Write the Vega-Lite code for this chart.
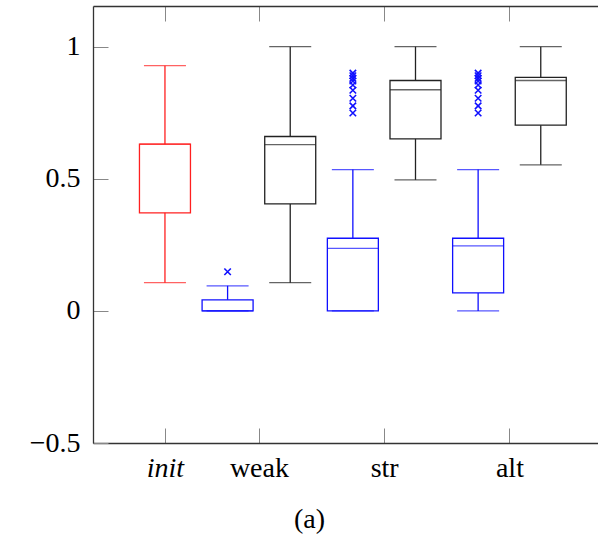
{
  "$schema": "https://vega.github.io/schema/vega-lite/v6.json",
  "width": 505,
  "height": 437,
  "autosize": {"type": "none"},
  "padding": {"left": 93, "top": 6, "right": 0, "bottom": 93},
  "background": "white",
  "config": {
    "view": {"stroke": null},
    "font": "Liberation Serif",
    "axis": {"labelFont": "Liberation Serif", "titleFont": "Liberation Serif", "tickSize": -15, "tickColor": "#888", "tickWidth": 1},
    "axisLeft": {"tickSize": -15, "tickColor": "#888", "tickWidth": 1},
    "axisTop": {"tickSize": -15, "tickColor": "#888", "tickWidth": 1}
  },
  "datasets": {
    "boxes": [
      {"pos": 1, "group": "init", "series": "init", "lo": 0.107, "q1": 0.371, "median": 0.631, "q3": 0.631, "hi": 0.928},
      {"pos": 2, "group": "weak", "series": "s1", "lo": 0.0, "q1": 0.0, "median": 0.0, "q3": 0.042, "hi": 0.095},
      {"pos": 3, "group": "weak", "series": "s2", "lo": 0.107, "q1": 0.405, "median": 0.629, "q3": 0.66, "hi": 1.0},
      {"pos": 4, "group": "str", "series": "s1", "lo": 0.0, "q1": 0.0, "median": 0.237, "q3": 0.275, "hi": 0.535},
      {"pos": 5, "group": "str", "series": "s2", "lo": 0.496, "q1": 0.651, "median": 0.837, "q3": 0.872, "hi": 1.0},
      {"pos": 6, "group": "alt", "series": "s1", "lo": 0.0, "q1": 0.068, "median": 0.246, "q3": 0.275, "hi": 0.535},
      {"pos": 7, "group": "alt", "series": "s2", "lo": 0.553, "q1": 0.703, "median": 0.872, "q3": 0.884, "hi": 1.0}
    ],
    "outliers": [
      {"pos": 2, "series": "s1", "value": 0.148},
      {"pos": 4, "series": "s1", "value": 0.90},
      {"pos": 4, "series": "s1", "value": 0.89},
      {"pos": 4, "series": "s1", "value": 0.88},
      {"pos": 4, "series": "s1", "value": 0.87},
      {"pos": 4, "series": "s1", "value": 0.855},
      {"pos": 4, "series": "s1", "value": 0.835},
      {"pos": 4, "series": "s1", "value": 0.805},
      {"pos": 4, "series": "s1", "value": 0.776},
      {"pos": 4, "series": "s1", "value": 0.749},
      {"pos": 6, "series": "s1", "value": 0.90},
      {"pos": 6, "series": "s1", "value": 0.89},
      {"pos": 6, "series": "s1", "value": 0.88},
      {"pos": 6, "series": "s1", "value": 0.87},
      {"pos": 6, "series": "s1", "value": 0.855},
      {"pos": 6, "series": "s1", "value": 0.835},
      {"pos": 6, "series": "s1", "value": 0.805},
      {"pos": 6, "series": "s1", "value": 0.776},
      {"pos": 6, "series": "s1", "value": 0.749}
    ]
  },
  "layer": [
    {
      "encoding": {
        "x": {
          "field": "pos",
          "type": "quantitative",
          "scale": {"domain": [-0.069, 7.834], "nice": false, "zero": false},
          "axis": {
            "orient": "bottom",
            "values": [1, 2.5, 4.5, 6.5],
            "labelExpr": "datum.value == 1 ? 'init' : datum.value == 2.5 ? 'weak' : datum.value == 4.5 ? 'str' : 'alt'",
            "labelFontStyle": {"condition": {"test": "datum.value == 1", "value": "italic"}, "value": "normal"},
            "labelFont": "Liberation Serif",
            "labelFontSize": 28,
            "labelColor": "#000",
            "labelPadding": 26,
            "labelFlush": false,
            "domainColor": "#333",
            "domainWidth": 1.3,
            "grid": false,
            "title": "(a)",
            "titleFont": "Liberation Serif",
            "titleFontWeight": "normal",
            "titleFontSize": 28,
            "titleColor": "#000",
            "titleX": 216,
            "titleY": 76,
            "titleBaseline": "middle"
          }
        },
        "color": {
          "field": "series",
          "type": "nominal",
          "scale": {"domain": ["init", "s1", "s2"], "range": ["#ff2020", "#1010ff", "#222222"]},
          "legend": null
        }
      },
      "layer": [
        {
          "data": {"name": "boxes"},
          "mark": {"type": "rule", "strokeWidth": 1.3},
          "encoding": {
            "y": {
              "field": "lo",
              "type": "quantitative",
              "scale": {"domain": [-0.5, 1.154], "nice": false, "zero": false},
              "axis": {
                "values": [-0.5, 0, 0.5, 1],
                "format": "~g",
                "labelFont": "Liberation Serif",
                "labelFontSize": 28,
                "labelColor": "#000",
                "labelPadding": 28,
                "domainColor": "#333",
                "domainWidth": 1.3,
                "grid": false,
                "title": null
              }
            },
            "y2": {"field": "q1"}
          }
        },
        {
          "data": {"name": "boxes"},
          "mark": {"type": "rule", "strokeWidth": 1.3},
          "encoding": {
            "y": {"field": "q3", "type": "quantitative"},
            "y2": {"field": "hi"}
          }
        },
        {
          "data": {"name": "boxes"},
          "mark": {"type": "tick", "orient": "horizontal", "size": 42, "thickness": 1.3},
          "encoding": {"y": {"field": "lo", "type": "quantitative"}}
        },
        {
          "data": {"name": "boxes"},
          "mark": {"type": "tick", "orient": "horizontal", "size": 42, "thickness": 1.3},
          "encoding": {"y": {"field": "hi", "type": "quantitative"}}
        },
        {
          "data": {"name": "boxes"},
          "mark": {"type": "bar", "width": 51, "fill": "white", "fillOpacity": 0, "strokeWidth": 1.3},
          "encoding": {
            "y": {"field": "q1", "type": "quantitative"},
            "y2": {"field": "q3"},
            "stroke": {"field": "series", "type": "nominal", "scale": {"domain": ["init", "s1", "s2"], "range": ["#ff2020", "#1010ff", "#222222"]}, "legend": null}
          }
        },
        {
          "data": {"name": "boxes"},
          "mark": {"type": "tick", "orient": "horizontal", "size": 51, "thickness": 1.3},
          "encoding": {"y": {"field": "median", "type": "quantitative"}}
        },
        {
          "data": {"name": "outliers"},
          "mark": {"type": "point", "shape": "M-1,-1L1,1M-1,1L1,-1", "size": 42, "strokeWidth": 1.6, "filled": false, "opacity": 1},
          "encoding": {
            "y": {"field": "value", "type": "quantitative"},
            "stroke": {"field": "series", "type": "nominal", "scale": {"domain": ["init", "s1", "s2"], "range": ["#ff2020", "#1010ff", "#222222"]}, "legend": null}
          }
        }
      ]
    },
    {
      "data": {"name": "boxes"},
      "mark": {"type": "rule", "opacity": 0},
      "encoding": {
        "x": {
          "field": "pos",
          "type": "quantitative",
          "axis": {
            "orient": "top",
            "values": [1, 2.5, 4.5, 6.5],
            "labels": false,
            "domainColor": "#333",
            "domainWidth": 1.3,
            "grid": false,
            "title": null
          }
        },
        "y": {"field": "lo", "type": "quantitative"}
      }
    }
  ],
  "resolve": {"axis": {"x": "independent"}}
}
